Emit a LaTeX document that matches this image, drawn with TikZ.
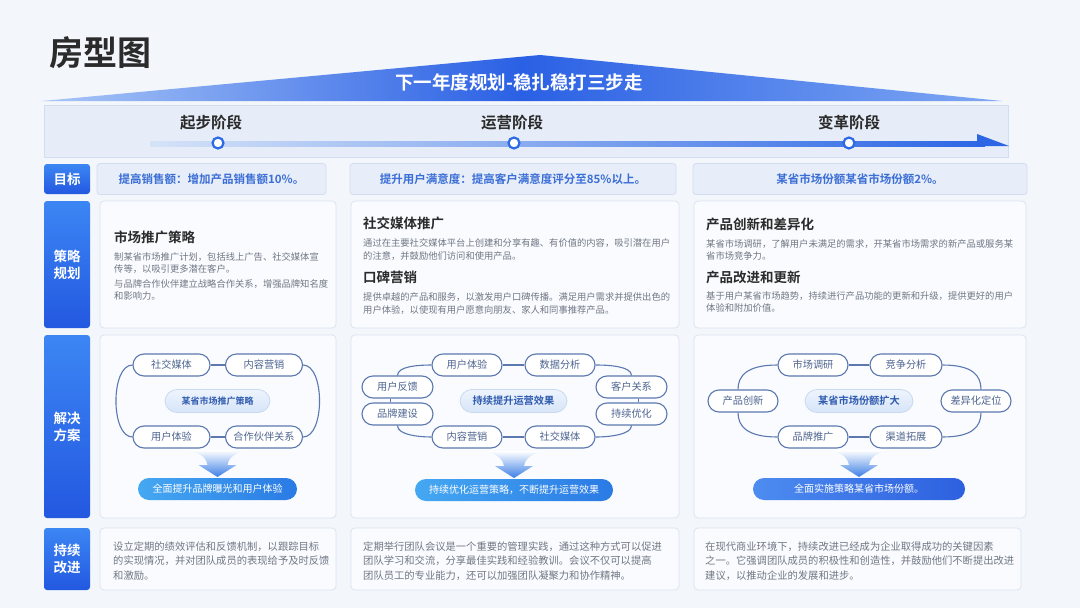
\documentclass[tikz,border=0pt]{standalone}
\usepackage{fontspec}
\setmainfont{Noto Sans CJK SC}[BoldFont={Noto Sans CJK SC Bold}]
\definecolor{bg}{HTML}{F3F6FB}
\definecolor{titc}{HTML}{2B2B2B}
\definecolor{roofl}{HTML}{A9C6F7}
\definecolor{roofm}{HTML}{2A60E4}
\definecolor{roofr}{HTML}{7FA8F3}
\definecolor{bandf}{HTML}{E6EDF8}
\definecolor{bandd}{HTML}{D2DDF0}
\definecolor{linel}{HTML}{D5E3F8}
\definecolor{liner}{HTML}{2C66E5}
\definecolor{stageblue}{HTML}{2D6BE6}
\definecolor{lblt}{HTML}{3C86F4}
\definecolor{lblb}{HTML}{2358E0}
\definecolor{goalf}{HTML}{E8EEF9}
\definecolor{goald}{HTML}{D3DDEF}
\definecolor{goalt}{HTML}{3B6ED6}
\definecolor{boxf}{HTML}{F9FBFE}
\definecolor{boxd}{HTML}{DCE4F0}
\definecolor{bodyc}{HTML}{707784}
\definecolor{pilld}{HTML}{5B78B0}
\definecolor{pillt}{HTML}{4D648F}
\definecolor{cpilld}{HTML}{C9D9F0}
\definecolor{cpillt}{HTML}{EEF4FD}
\definecolor{cpillb}{HTML}{D6E5F8}
\definecolor{cpilltxt}{HTML}{2F5BAE}
\definecolor{bpl}{HTML}{45A8F2}
\definecolor{bpr}{HTML}{2A7AE4}
\definecolor{bplc}{HTML}{4D8CF0}
\definecolor{bprc}{HTML}{2D60DF}
\definecolor{arrowc}{HTML}{3D7FE6}
\begin{document}
\begin{tikzpicture}[x=1pt,y=-1pt,
 lbl/.style={rounded corners=3pt, top color=lblt, bottom color=lblb, text=white, font=\fontsize{13.5}{17}\selectfont\bfseries, align=center, inner sep=0pt, minimum width=46pt},
 goalbox/.style={rounded corners=3pt, fill=goalf, draw=goald, line width=0.8pt, text=goalt, font=\fontsize{11.5}{14}\selectfont\bfseries, inner sep=0pt, minimum height=31pt},
 cbox/.style={rounded corners=4pt, fill=boxf, draw=boxd, line width=0.8pt, inner sep=0pt},
 stitle/.style={inner sep=0pt, anchor=west, text=titc, font=\fontsize{13.5}{16}\selectfont\bfseries},
 sbody/.style={inner sep=0pt, anchor=west, text=bodyc, align=left, font=\fontsize{9.3}{12.5}\selectfont},
 bbody/.style={inner sep=0pt, anchor=west, text=bodyc, align=left, font=\fontsize{10.3}{14.5}\selectfont},
 pill/.style={rounded corners=11pt, draw=pilld, line width=1.1pt, fill=white, text=pillt, font=\fontsize{10.2}{12}\selectfont, minimum height=22pt, inner sep=0pt},
 cpill/.style={rounded corners=12pt, draw=cpilld, line width=0.8pt, top color=cpillt, bottom color=cpillb, text=cpilltxt, font=\fontsize{10.2}{12}\selectfont\bfseries, minimum height=23pt, inner sep=0pt},
 bpill/.style={rounded corners=11pt, text=white, font=\fontsize{10}{12}\selectfont, minimum height=22pt, inner sep=0pt, left color=bpl, right color=bpr},
 conn/.style={draw=pilld, line width=1.1pt},
 stagec/.style={circle, draw=stageblue, line width=2.2pt, fill=white, minimum size=11pt, inner sep=0pt},
 stagel/.style={inner sep=0pt, text=titc, font=\fontsize{15.5}{18}\selectfont\bfseries},
 fadearr/.pic={\shade[top color=white, bottom color=arrowc] (-27,0) .. controls (-14,5) and (-11,9) .. (-10,15) -- (-19,15) -- (0,27) -- (19,15) -- (10,15) .. controls (11,9) and (14,5) .. (27,0) -- cycle;}
]
\useasboundingbox (0,0) rectangle (1080,608);
\fill[bg] (0,0) rectangle (1080,608);

% title
\node[inner sep=0pt, anchor=west, text=titc, font=\fontsize{34}{34}\selectfont\bfseries] (title) at (49,53) {房型图};

% roof
\shade[left color=roofl, right color=roofr, middle color=roofm] (42,101) -- (540,55) -- (1002,101) -- cycle;
\node[inner sep=0pt, text=white, font=\fontsize{18.5}{20}\selectfont\bfseries] (rooftext) at (519,82) {下一年度规划-稳扎稳打三步走};

% stage band
\draw[fill=bandf, draw=bandd, line width=0.8pt] (44,105) rectangle (1008,157);
\shade[left color=linel, right color=liner] (150,141) rectangle (985,146);
\fill[liner] (977,134) -- (1009,146) -- (977,146) -- cycle;
\node[stagec] (c1) at (218,143) {};
\node[stagec] (c2) at (514,143) {};
\node[stagec] (c3) at (849,143) {};
\node[stagel] (st1) at (211,123) {起步阶段};
\node[stagel] (st2) at (512,123) {运营阶段};
\node[stagel] (st3) at (849,123) {变革阶段};

% row labels
\node[lbl, minimum height=30pt] (l1) at (67,179) {目标};
\node[lbl, minimum height=127pt] (l2) at (67,264.5) {策略\\规划};
\node[lbl, minimum height=183pt] (l3) at (67,426.5) {解决\\方案};
\node[lbl, minimum height=62pt] (l4) at (67,559) {持续\\改进};

% goals
\node[goalbox, minimum width=229pt] (g1) at (211.5,179) {提高销售额：增加产品销售额10\%。};
\node[goalbox, minimum width=326pt] (g2) at (513,179) {提升用户满意度：提高客户满意度评分至85\%以上。};
\node[goalbox, minimum width=334pt] (g3) at (860,179) {某省市场份额某省市场份额2\%。};

% strategy boxes
\node[cbox, minimum width=236pt, minimum height=127pt] (s1) at (218,264.5) {};
\node[cbox, minimum width=328pt, minimum height=127pt] (s2) at (515,264.5) {};
\node[cbox, minimum width=332pt, minimum height=127pt] (s3) at (860,264.5) {};

\node[stitle] (s1t) at (114,237) {市场推广策略};
\node[sbody] (s1b1) at (114,263) {制某省市场推广计划，包括线上广告、社交媒体宣\\传等，以吸引更多潜在客户。};
\node[sbody] (s1b2) at (114,290) {与品牌合作伙伴建立战略合作关系，增强品牌知名度\\和影响力。};

\node[stitle] (s2t) at (363,223) {社交媒体推广};
\node[sbody] (s2b1) at (363,249.5) {通过在主要社交媒体平台上创建和分享有趣、有价值的内容，吸引潜在用户\\的注意，并鼓励他们访问和使用产品。};
\node[stitle] (s2t2) at (363,277) {口碑营销};
\node[sbody] (s2b2) at (363,303.5) {提供卓越的产品和服务，以激发用户口碑传播。满足用户需求并提供出色的\\用户体验，以使现有用户愿意向朋友、家人和同事推荐产品。};

\node[stitle] (s3t) at (706,224) {产品创新和差异化};
\node[sbody] (s3b1) at (706,250) {某省市场调研，了解用户未满足的需求，开某省市场需求的新产品或服务某\\省市场竞争力。};
\node[stitle] (s3t2) at (706,277) {产品改进和更新};
\node[sbody] (s3b2) at (706,302) {基于用户某省市场趋势，持续进行产品功能的更新和升级，提供更好的用户\\体验和附加价值。};

% solution boxes
\node[cbox, minimum width=236pt, minimum height=183pt] (d1) at (218,426.5) {};
\node[cbox, minimum width=328pt, minimum height=183pt] (d2) at (515,426.5) {};
\node[cbox, minimum width=332pt, minimum height=183pt] (d3) at (860,426.5) {};

% column 1 diagram
\node[pill, minimum width=77pt] (p1) at (171.5,365) {社交媒体};
\node[pill, minimum width=77pt] (p2) at (264,365) {内容营销};
\node[pill, minimum width=77pt] (p3) at (171.5,437) {用户体验};
\node[pill, minimum width=77pt] (p4) at (264,437) {合作伙伴关系};
\node[cpill, minimum width=105pt, font=\fontsize{9}{11}\selectfont\bfseries] (pc) at (217.5,401) {某省市场推广策略};
\draw[conn] (p1) -- (p2);
\draw[conn] (p3) -- (p4);
\draw[conn] (p1.west) .. controls +(-22,0) and +(-22,0) .. (p3.west);
\draw[conn] (p2.east) .. controls +(22,0) and +(22,0) .. (p4.east);
\pic (a1) at (217.5,450) {fadearr};
\node[bpill, minimum width=159pt] (pb) at (217.5,489) {全面提升品牌曝光和用户体验};

% column 2 diagram
\node[pill, minimum width=70pt] (q1) at (467,365) {用户体验};
\node[pill, minimum width=70pt] (q2) at (560,365) {数据分析};
\node[pill, minimum width=71pt] (q3) at (397.5,387) {用户反馈};
\node[pill, minimum width=71pt] (q4) at (397.5,414) {品牌建设};
\node[pill, minimum width=71pt] (q5) at (631.5,387) {客户关系};
\node[pill, minimum width=71pt] (q6) at (631.5,414) {持续优化};
\node[pill, minimum width=70pt] (q7) at (467,437) {内容营销};
\node[pill, minimum width=70pt] (q8) at (560,437) {社交媒体};
\node[cpill, minimum width=107pt] (qc) at (513.5,401) {持续提升运营效果};
\draw[conn] (q1) -- (q2);
\draw[conn] (q7) -- (q8);
\draw[conn] ([xshift=-7pt]q3.south) -- ([xshift=-7pt]q4.north);
\draw[conn] ([xshift=7pt]q5.south) -- ([xshift=7pt]q6.north);
\draw[conn] (q3.north) .. controls +(0,-9) and +(-14,0) .. (q1.west);
\draw[conn] (q4.south) .. controls +(0,9) and +(-14,0) .. (q7.west);
\draw[conn] (q5.north) .. controls +(0,-9) and +(14,0) .. (q2.east);
\draw[conn] (q6.south) .. controls +(0,9) and +(14,0) .. (q8.east);
\pic (a2) at (514,451) {fadearr};
\node[bpill, minimum width=198pt] (qb) at (514,490) {持续优化运营策略，不断提升运营效果};

% column 3 diagram
\node[pill, minimum width=70pt] (r1) at (813,365) {市场调研};
\node[pill, minimum width=72pt] (r2) at (906,365) {竞争分析};
\node[pill, minimum width=70pt] (r3) at (743,401) {产品创新};
\node[pill, minimum width=70pt] (r4) at (976,401) {差异化定位};
\node[pill, minimum width=70pt] (r5) at (813,437) {品牌推广};
\node[pill, minimum width=72pt] (r6) at (906,437) {渠道拓展};
\node[cpill, minimum width=108pt] (rc) at (859,401) {某省市场份额扩大};
\draw[conn] (r1) -- (r2);
\draw[conn] (r5) -- (r6);
\draw[conn] (r1.west) .. controls +(-30,0) and +(0,-14) .. ([xshift=-5pt]r3.north);
\draw[conn] ([xshift=-5pt]r3.south) .. controls +(0,14) and +(-30,0) .. (r5.west);
\draw[conn] (r2.east) .. controls +(30,0) and +(0,-14) .. ([xshift=5pt]r4.north);
\draw[conn] ([xshift=5pt]r4.south) .. controls +(0,14) and +(30,0) .. (r6.east);
\pic (a3) at (859,450) {fadearr};
\node[bpill, minimum width=212pt, left color=bplc, right color=bprc] (rb) at (859,489) {全面实施策略某省市场份额。};

% bottom boxes
\node[cbox, minimum width=236pt, minimum height=62pt] (b1) at (218,559) {};
\node[cbox, minimum width=328pt, minimum height=62pt] (b2) at (515,559) {};
\node[cbox, minimum width=327pt, minimum height=62pt] (b3) at (857.5,559) {};
\node[bbody] (b1t) at (113,561) {设立定期的绩效评估和反馈机制，以跟踪目标\\的实现情况，并对团队成员的表现给予及时反馈\\和激励。};
\node[bbody] (b2t) at (363,561) {定期举行团队会议是一个重要的管理实践，通过这种方式可以促进\\团队学习和交流，分享最佳实践和经验教训。会议不仅可以提高\\团队员工的专业能力，还可以加强团队凝聚力和协作精神。};
\node[bbody] (b3t) at (705,561) {在现代商业环境下，持续改进已经成为企业取得成功的关键因素\\之一。它强调团队成员的积极性和创造性，并鼓励他们不断提出改进\\建议，以推动企业的发展和进步。};
\end{tikzpicture}
\end{document}
